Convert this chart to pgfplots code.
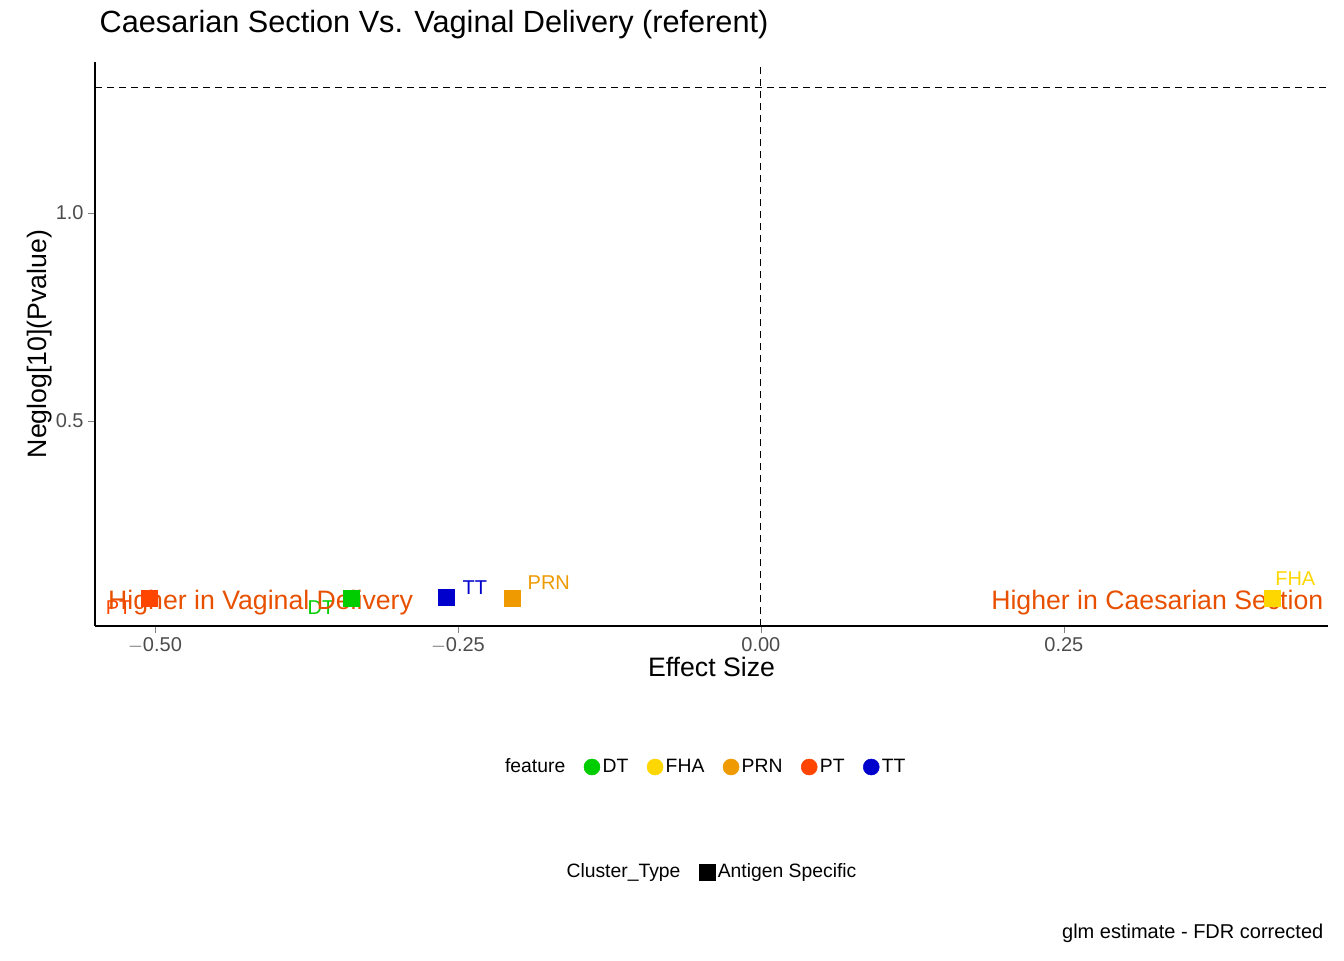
\documentclass[border=0pt]{standalone}
\usepackage{pgfplots}
\pgfplotsset{compat=1.18}
\usepackage{fontspec}
\setmainfont{Liberation Sans}
\definecolor{cDT}{RGB}{0,205,0}
\definecolor{cFHA}{RGB}{255,215,0}
\definecolor{cPRN}{RGB}{238,154,0}
\definecolor{cPT}{RGB}{255,69,0}
\definecolor{cTT}{RGB}{0,0,205}
\definecolor{cAnn}{RGB}{232,80,0}
\begin{document}
\begin{tikzpicture}
\path (0pt,0pt) rectangle (1008pt,720pt);
\begin{axis}[at={(71.25pt,673.5pt)},anchor=north west,scale only axis,
 width=924.75pt,height=423pt,
 xmin=-0.5495,xmax=0.468,ymin=0.007,ymax=1.363,
 axis x line*=bottom, axis y line*=left, axis line style={-,thick},
 xtick={-0.5,-0.25,0,0.25}, xticklabels={$-$0.50,$-$0.25,0.00,0.25},
 ytick={0.5,1.0}, yticklabels={0.5,1.0},
 /pgf/number format/assume math mode=true,
 tick label style={font=\fontsize{15}{15}\selectfont, text=black!70},
 tick align=outside, major tick length=5pt,
 xlabel={Effect Size}, ylabel={Neglog[10](Pvalue)},
 label style={font=\fontsize{20}{20}\selectfont},
 xlabel style={yshift=4pt}, ylabel style={yshift=-4pt},
 title={Caesarian Section Vs. Vaginal Delivery (referent)},
 title style={font=\fontsize{23}{23}\selectfont, at={(0,1)}, anchor=south west, yshift=8pt},
 legend style={at={(0.495,-0.25)},anchor=center,draw=none,
   font=\fontsize{14.5}{14.5}\selectfont, legend columns=6,
   /tikz/every even column/.append style={column sep=12pt}},
 clip=false]
\addlegendimage{empty legend}\addlegendentry{feature}
\addlegendimage{only marks,mark=*,mark size=6pt,cDT}\addlegendentry{DT}
\addlegendimage{only marks,mark=*,mark size=6pt,cFHA}\addlegendentry{FHA}
\addlegendimage{only marks,mark=*,mark size=6pt,cPRN}\addlegendentry{PRN}
\addlegendimage{only marks,mark=*,mark size=6pt,cPT}\addlegendentry{PT}
\addlegendimage{only marks,mark=*,mark size=6pt,cTT}\addlegendentry{TT}
\draw[thick,dash pattern=on 5pt off 4pt] (axis cs:-0.5495,1.301) -- (axis cs:0.468,1.301);
\draw[thick,dash pattern=on 5pt off 4pt] (axis cs:0,0.007) -- (axis cs:0,1.363);
\addplot[forget plot,only marks,mark=square*,mark size=6pt,cPT] coordinates {(-0.505,0.0745)};
\addplot[forget plot,only marks,mark=square*,mark size=6pt,cDT] coordinates {(-0.338,0.0745)};
\addplot[forget plot,only marks,mark=square*,mark size=6pt,cTT] coordinates {(-0.26,0.077)};
\addplot[forget plot,only marks,mark=square*,mark size=6pt,cPRN] coordinates {(-0.205,0.0745)};
\addplot[forget plot,only marks,mark=square*,mark size=6pt,cFHA] coordinates {(0.4216,0.0745)};
\node[text=cPT,font=\fontsize{15}{15}\selectfont] at (axis cs:-0.53,0.05) {PT};
\node[text=cDT,font=\fontsize{15}{15}\selectfont] at (axis cs:-0.363,0.05) {DT};
\node[text=cTT,font=\fontsize{15}{15}\selectfont] at (axis cs:-0.236,0.1) {TT};
\node[text=cPRN,font=\fontsize{15}{15}\selectfont] at (axis cs:-0.175,0.112) {PRN};
\node[text=cFHA,font=\fontsize{15}{15}\selectfont] at (axis cs:0.441,0.12) {FHA};
\node[text=cAnn,font=\fontsize{20}{20}\selectfont,anchor=west] at (axis cs:-0.5425,0.0625) {Higher in Vaginal Delivery};
\node[text=cAnn,font=\fontsize{20}{20}\selectfont,anchor=east] at (axis cs:0.468,0.0625) {Higher in Caesarian Section};
\node[anchor=east,font=\fontsize{15}{15}\selectfont] at (rel axis cs:1,-0.545) {glm estimate - FDR corrected};
\end{axis}
\begin{axis}[at={(71.25pt,673.5pt)},anchor=north west,scale only axis,
 width=924.75pt,height=423pt,hide axis,xmin=0,xmax=1,ymin=0,ymax=1,
 legend style={at={(0.5,-0.436)},anchor=center,draw=none,
   font=\fontsize{14.5}{14.5}\selectfont, legend columns=2,
   /tikz/every even column/.append style={column sep=12pt}}]
\addlegendimage{empty legend}\addlegendentry{Cluster\_Type}
\addlegendimage{only marks,mark=square*,mark size=6pt,black}\addlegendentry{Antigen Specific}
\end{axis}
\end{tikzpicture}
\end{document}
